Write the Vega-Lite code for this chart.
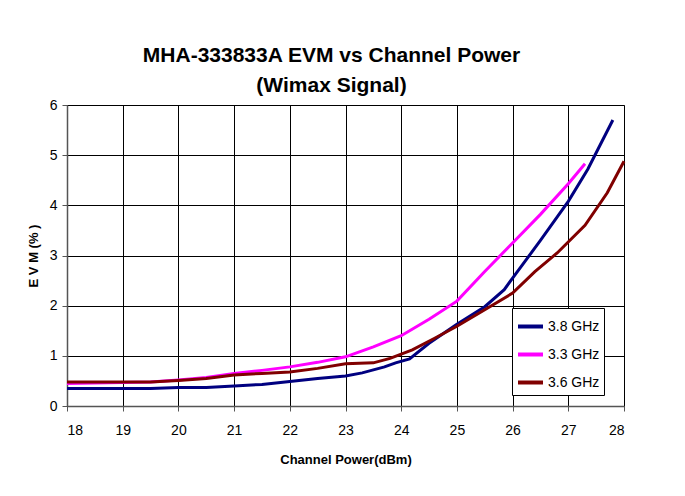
{
  "$schema": "https://vega.github.io/schema/vega-lite/v6.json",
  "width": 557,
  "height": 301,
  "autosize": {"type": "none"},
  "padding": {"left": 67, "top": 105, "right": 61, "bottom": 90},
  "background": "white",
  "title": {
    "text": ["MHA-333833A EVM vs Channel Power", "(Wimax Signal)"],
    "font": "Liberation Sans",
    "fontSize": 21,
    "fontWeight": "bold",
    "color": "black",
    "lineHeight": 30,
    "anchor": "middle",
    "dx": -14,
    "offset": 2
  },
  "data": {
    "values": [
      {"series": "3.8 GHz", "x": 18, "y": 0.35},
      {"series": "3.8 GHz", "x": 18.5, "y": 0.35},
      {"series": "3.8 GHz", "x": 19, "y": 0.35},
      {"series": "3.8 GHz", "x": 19.5, "y": 0.35},
      {"series": "3.8 GHz", "x": 20, "y": 0.37},
      {"series": "3.8 GHz", "x": 20.5, "y": 0.37},
      {"series": "3.8 GHz", "x": 21, "y": 0.40},
      {"series": "3.8 GHz", "x": 21.5, "y": 0.43},
      {"series": "3.8 GHz", "x": 22, "y": 0.49},
      {"series": "3.8 GHz", "x": 22.5, "y": 0.55},
      {"series": "3.8 GHz", "x": 23, "y": 0.60},
      {"series": "3.8 GHz", "x": 23.3, "y": 0.66},
      {"series": "3.8 GHz", "x": 23.7, "y": 0.78},
      {"series": "3.8 GHz", "x": 23.9, "y": 0.86},
      {"series": "3.8 GHz", "x": 24.15, "y": 0.94},
      {"series": "3.8 GHz", "x": 24.5, "y": 1.25},
      {"series": "3.8 GHz", "x": 25, "y": 1.63},
      {"series": "3.8 GHz", "x": 25.5, "y": 1.98},
      {"series": "3.8 GHz", "x": 25.85, "y": 2.32},
      {"series": "3.8 GHz", "x": 26, "y": 2.55},
      {"series": "3.8 GHz", "x": 26.5, "y": 3.3},
      {"series": "3.8 GHz", "x": 27, "y": 4.08},
      {"series": "3.8 GHz", "x": 27.35, "y": 4.72},
      {"series": "3.8 GHz", "x": 27.8, "y": 5.70},
      {"series": "3.3 GHz", "x": 18, "y": 0.45},
      {"series": "3.3 GHz", "x": 18.5, "y": 0.46},
      {"series": "3.3 GHz", "x": 19, "y": 0.47},
      {"series": "3.3 GHz", "x": 19.5, "y": 0.48},
      {"series": "3.3 GHz", "x": 20, "y": 0.52},
      {"series": "3.3 GHz", "x": 20.5, "y": 0.57},
      {"series": "3.3 GHz", "x": 21, "y": 0.65},
      {"series": "3.3 GHz", "x": 21.5, "y": 0.71},
      {"series": "3.3 GHz", "x": 22, "y": 0.78},
      {"series": "3.3 GHz", "x": 22.5, "y": 0.87},
      {"series": "3.3 GHz", "x": 23, "y": 0.98},
      {"series": "3.3 GHz", "x": 23.5, "y": 1.18},
      {"series": "3.3 GHz", "x": 24, "y": 1.40},
      {"series": "3.3 GHz", "x": 24.5, "y": 1.73},
      {"series": "3.3 GHz", "x": 25, "y": 2.09},
      {"series": "3.3 GHz", "x": 25.5, "y": 2.68},
      {"series": "3.3 GHz", "x": 26, "y": 3.25},
      {"series": "3.3 GHz", "x": 26.5, "y": 3.82},
      {"series": "3.3 GHz", "x": 27, "y": 4.43},
      {"series": "3.3 GHz", "x": 27.3, "y": 4.83},
      {"series": "3.6 GHz", "x": 18, "y": 0.48},
      {"series": "3.6 GHz", "x": 18.5, "y": 0.48},
      {"series": "3.6 GHz", "x": 19, "y": 0.48},
      {"series": "3.6 GHz", "x": 19.5, "y": 0.48},
      {"series": "3.6 GHz", "x": 20, "y": 0.51},
      {"series": "3.6 GHz", "x": 20.5, "y": 0.55},
      {"series": "3.6 GHz", "x": 21, "y": 0.62},
      {"series": "3.6 GHz", "x": 21.5, "y": 0.65},
      {"series": "3.6 GHz", "x": 22, "y": 0.68},
      {"series": "3.6 GHz", "x": 22.5, "y": 0.75},
      {"series": "3.6 GHz", "x": 23, "y": 0.84},
      {"series": "3.6 GHz", "x": 23.5, "y": 0.86},
      {"series": "3.6 GHz", "x": 23.8, "y": 0.95},
      {"series": "3.6 GHz", "x": 24.2, "y": 1.12},
      {"series": "3.6 GHz", "x": 24.6, "y": 1.35},
      {"series": "3.6 GHz", "x": 25, "y": 1.59},
      {"series": "3.6 GHz", "x": 25.5, "y": 1.92},
      {"series": "3.6 GHz", "x": 26, "y": 2.25},
      {"series": "3.6 GHz", "x": 26.4, "y": 2.68},
      {"series": "3.6 GHz", "x": 26.8, "y": 3.05},
      {"series": "3.6 GHz", "x": 27.3, "y": 3.6},
      {"series": "3.6 GHz", "x": 27.7, "y": 4.25},
      {"series": "3.6 GHz", "x": 28, "y": 4.88}
    ]
  },
  "mark": {"type": "line", "strokeWidth": 3, "clip": false},
  "encoding": {
    "x": {
      "field": "x",
      "type": "quantitative",
      "scale": {"domain": [18, 28], "nice": false, "zero": false},
      "axis": {
        "title": "Channel Power(dBm)",
        "values": [18, 19, 20, 21, 22, 23, 24, 25, 26, 27, 28],
        "format": "d",
        "labelPadding": 12,
        "titlePadding": 16
      }
    },
    "y": {
      "field": "y",
      "type": "quantitative",
      "scale": {"domain": [0, 6], "nice": false},
      "axis": {
        "title": "E V M (% )",
        "values": [0, 1, 2, 3, 4, 5, 6],
        "format": "d",
        "labelPadding": 5,
        "titlePadding": 9
      }
    },
    "color": {
      "field": "series",
      "type": "nominal",
      "sort": ["3.8 GHz", "3.3 GHz", "3.6 GHz"],
      "scale": {
        "domain": ["3.8 GHz", "3.3 GHz", "3.6 GHz"],
        "range": ["#000080", "#FF00FF", "#800000"]
      },
      "legend": {
        "title": null,
        "orient": "none",
        "legendX": 445,
        "legendY": 203,
        "symbolType": "stroke",
        "symbolSize": 625,
        "symbolStrokeWidth": 4,
        "labelFont": "Liberation Sans",
        "labelFontSize": 14,
        "labelColor": "black",
        "labelOffset": 3,
        "rowPadding": 5,
        "padding": 4,
        "strokeColor": "black",
        "fillColor": "white",
        "cornerRadius": 0
      }
    }
  },
  "config": {
    "view": {"stroke": "#808080", "strokeWidth": 1},
    "axis": {
      "grid": true,
      "gridColor": "black",
      "gridOpacity": 1,
      "gridWidth": 1,
      "domainColor": "#555555",
      "domainWidth": 1.5,
      "tickColor": "#555555",
      "tickSize": 5,
      "labelFont": "Liberation Sans",
      "labelFontSize": 14,
      "labelColor": "black",
      "titleFont": "Liberation Sans",
      "titleFontSize": 13,
      "titleFontWeight": "bold",
      "titleColor": "black"
    }
  }
}
